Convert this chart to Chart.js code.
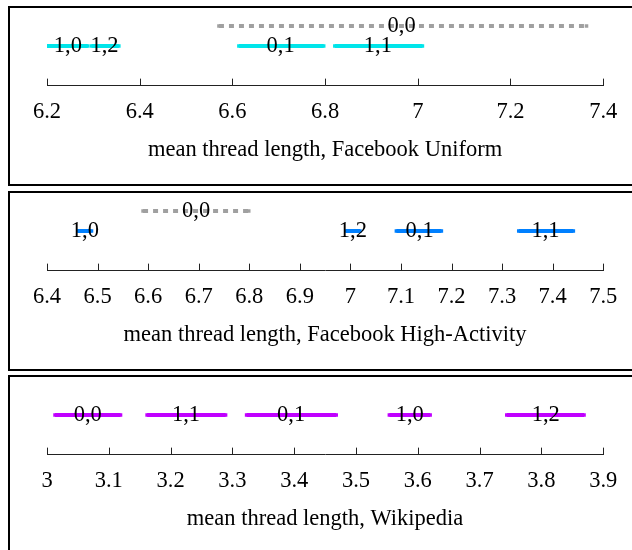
<!DOCTYPE html>
<html>
<head>
<meta charset="utf-8">
<script src="https://cdn.jsdelivr.net/npm/chart.js@4"></script>
<style>
  body { margin: 0; background: #fff; }
  .panel { position: absolute; left: 8px; width: 640px; height: 180px; box-sizing: border-box; border: 2px solid #000; }
  canvas { position: absolute; left: 0; }
</style>
</head>
<body>
<div class="panel" style="top:6px"></div>
<div class="panel" style="top:191px"></div>
<div class="panel" style="top:375px"></div>
<canvas id="c1" width="632" height="180" style="top:6px"></canvas>
<canvas id="c2" width="632" height="180" style="top:191px"></canvas>
<canvas id="c3" width="632" height="180" style="top:375px"></canvas>
<script>
// Facebook Uniform
const uniformLabels = ['0,0', '1,0', '1,2', '0,1', '1,1'];
const uniformLow    = [6.571, 6.200, 6.296, 6.614, 6.821];
const uniformMean   = [6.965, 6.245, 6.324, 6.704, 6.914];
const uniformHigh   = [7.364, 6.288, 6.355, 6.797, 7.010];
const uniformRow    = [3.15, 2.1, 2.1, 2.1, 2.1];

// Facebook High-Activity
const highLabels = ['0,0', '1,0', '1,2', '0,1', '1,1'];
const highLow    = [6.590, 6.461, 6.991, 7.091, 7.333];
const highMean   = [6.695, 6.475, 7.005, 7.137, 7.386];
const highHigh   = [6.799, 6.488, 7.019, 7.180, 7.441];
const highRow    = [3.15, 2.1, 2.1, 2.1, 2.1];

// Wikipedia
const wikiLabels = ['0,0', '1,1', '0,1', '1,0', '1,2'];
const wikiLow    = [3.013, 3.162, 3.323, 3.554, 3.744];
const wikiMean   = [3.066, 3.225, 3.395, 3.587, 3.807];
const wikiHigh   = [3.119, 3.289, 3.468, 3.620, 3.869];
const wikiRow    = [2.1, 2.1, 2.1, 2.1, 2.1];

const serif = "'Liberation Serif', 'Times New Roman', serif";
const fontPx = 22.5;

// tick marks pointing up from the axis line
const upTicks = {
  id: 'upTicks',
  afterDraw(chart) {
    const sc = chart.scales.x;
    const ctx = chart.ctx;
    ctx.save();
    ctx.strokeStyle = '#222';
    ctx.lineWidth = 1;
    sc.ticks.forEach(t => {
      const x = Math.round(sc.getPixelForValue(t.value)) + 0.5;
      ctx.beginPath();
      ctx.moveTo(x, sc.top);
      ctx.lineTo(x, sc.top - 7);
      ctx.stroke();
    });
    ctx.restore();
  }
};

// pair label drawn at the mean
const pairLabels = {
  id: 'pairLabels',
  afterDatasetsDraw(chart) {
    const ctx = chart.ctx;
    ctx.save();
    ctx.font = fontPx + 'px ' + serif;
    ctx.fillStyle = '#000';
    ctx.textAlign = 'center';
    ctx.textBaseline = 'middle';
    chart.data.datasets.forEach((ds, i) => {
      const pt = chart.getDatasetMeta(i).data[1];
      ctx.fillText(ds.label, pt.x, pt.y);
    });
    ctx.restore();
  }
};

function makeChart(id, labels, low, mean, high, row, color, min, max, step, title) {
  const datasets = labels.map((lab, i) => {
    const col = (lab === '0,0' && color !== '#c000ff') ? '#a0a0a0' : color;
    const dotted = col === '#a0a0a0';
    return {
      label: lab,
      data: [{x: low[i], y: row[i]}, {x: mean[i], y: row[i]}, {x: high[i], y: row[i]}],
      showLine: true,
      borderColor: col,
      backgroundColor: col,
      borderWidth: 4,
      borderDash: dotted ? [5, 5] : [],
      pointStyle: 'rect',
      pointRadius: dotted ? [2.5, 0, 2.5] : [2.5, 2.5, 2.5],
      pointBorderWidth: 0
    };
  });
  new Chart(document.getElementById(id), {
    type: 'scatter',
    data: { datasets: datasets },
    options: {
      responsive: false,
      animation: false,
      layout: { padding: { left: 47, right: 21, top: 4, bottom: 24.75 } },
      plugins: { legend: { display: false }, tooltip: { enabled: false } },
      scales: {
        x: {
          type: 'linear',
          min: min,
          max: max,
          grid: { display: false, drawTicks: false },
          border: { display: true, color: '#222', width: 1 },
          ticks: {
            stepSize: step, color: '#000', font: { family: serif, size: fontPx, lineHeight: 1 }, padding: 14.75,
            maxRotation: 0, autoSkip: false,
            callback: v => String(Math.round(v * 10) / 10)
          },
          title: { display: true, text: title, color: '#000', font: { family: serif, size: fontPx, lineHeight: 1 }, padding: { top: 15.5, bottom: 0 } }
        },
        y: { display: false, min: 0, max: 4 }
      }
    },
    plugins: [upTicks, pairLabels]
  });
}

makeChart('c1', uniformLabels, uniformLow, uniformMean, uniformHigh, uniformRow, '#00e5ea', 6.2, 7.4, 0.2, 'mean thread length, Facebook Uniform');
makeChart('c2', highLabels, highLow, highMean, highHigh, highRow, '#0080ff', 6.4, 7.5, 0.1, 'mean thread length, Facebook High-Activity');
makeChart('c3', wikiLabels, wikiLow, wikiMean, wikiHigh, wikiRow, '#c000ff', 3.0, 3.9, 0.1, 'mean thread length, Wikipedia');
</script>
</body>
</html>
